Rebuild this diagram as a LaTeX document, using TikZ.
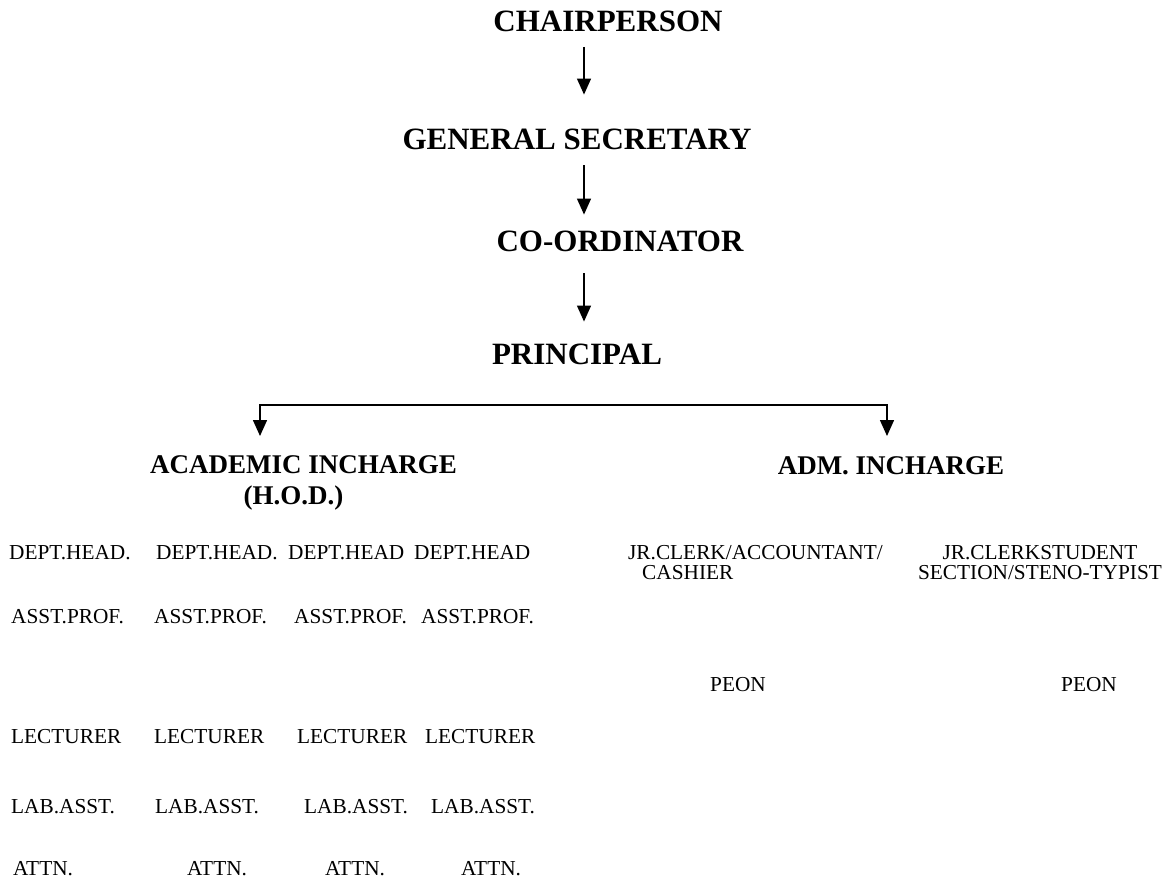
\documentclass[tikz,border=0pt]{standalone}
\usepackage{fontspec}
\setmainfont{Liberation Serif}
\usetikzlibrary{arrows.meta}

\begin{document}
\begin{tikzpicture}[x=1pt,y=-1pt,
    head/.style={font=\fontsize{31}{36}\selectfont\bfseries, inner sep=0pt, text height=20.5pt, text depth=0pt},
    subhead/.style={font=\fontsize{27}{31}\selectfont\bfseries, inner sep=0pt, align=center, anchor=north},
    post/.style={font=\fontsize{21.3}{20}\selectfont, inner sep=0pt, anchor=base west},
    link/.style={line width=1.3pt, -{Triangle[length=16pt,width=14pt]}},
    fork/.style={line width=1.5pt, {Triangle[length=16pt,width=14pt]}-{Triangle[length=16pt,width=14pt]}}]
    \useasboundingbox (0,0) rectangle (1167,884);

    % top of the chain
    \node(chair) [head] at (608,21.5) {CHAIRPERSON};
    \node(gensec) [head] at (577,139) {GENERAL SECRETARY};
    \node(coord) [head] at (620,241) {CO-ORDINATOR};
    \node(princ) [head] at (577,354) {PRINCIPAL};

    \coordinate (spine) at (584,0);
    \draw[link, shorten <=15pt, shorten >=34pt] (spine |- chair.south) -- (spine |- gensec.north);
    \draw[link, shorten <=16pt, shorten >=16pt] (spine |- gensec.south) -- (spine |- coord.north);
    \draw[link, shorten <=22pt, shorten >=22pt] (spine |- coord.south) -- (spine |- princ.north);

    % the two wings
    \node(acad) [subhead] at (303.5,455) {ACADEMIC INCHARGE\\\hspace*{-20pt}(H.O.D.)};
    \node(adm) [subhead] at (891,456) {ADM. INCHARGE};

    \coordinate (brL) at (260,405);
    \coordinate (brR) at (887,405);
    \draw[fork, shorten <=19pt, shorten >=20pt] (brL |- acad.north) -- (brL) -- (brR) -- (brR |- adm.north);

    % academic staff
    \node(dh1) [post] at (9,559) {DEPT.HEAD.};
    \node(dh2) [post] at (156,559) {DEPT.HEAD.};
    \node(dh3) [post] at (288,559) {DEPT.HEAD};
    \node(dh4) [post] at (414,559) {DEPT.HEAD};

    \node(ap1) [post] at (11,623) {ASST.PROF.};
    \node(ap2) [post] at (154,623) {ASST.PROF.};
    \node(ap3) [post] at (294,623) {ASST.PROF.};
    \node(ap4) [post] at (421,623) {ASST.PROF.};

    \node(lec1) [post] at (11,743) {LECTURER};
    \node(lec2) [post] at (154,743) {LECTURER};
    \node(lec3) [post] at (297,743) {LECTURER};
    \node(lec4) [post] at (425,743) {LECTURER};

    \node(la1) [post] at (11,813) {LAB.ASST.};
    \node(la2) [post] at (155,813) {LAB.ASST.};
    \node(la3) [post] at (304,813) {LAB.ASST.};
    \node(la4) [post] at (431,813) {LAB.ASST.};

    \node(at1) [post] at (13,875) {ATTN.};
    \node(at2) [post] at (187,875) {ATTN.};
    \node(at3) [post] at (325,875) {ATTN.};
    \node(at4) [post] at (461,875) {ATTN.};

    % office staff
    \node(clerk1) [post, anchor=north west, align=left] at (628,545) {JR.CLERK/ACCOUNTANT/\\\hspace*{14pt}CASHIER};
    \node(clerk2) [post, anchor=north, align=center] at (1040,545) {JR.CLERKSTUDENT\\SECTION/STENO-TYPIST};

    \node(peon1) [post, anchor=base] at (738,691) {PEON};
    \node(peon2) [post, anchor=base] at (1089,691) {PEON};

\end{tikzpicture}
\end{document}
